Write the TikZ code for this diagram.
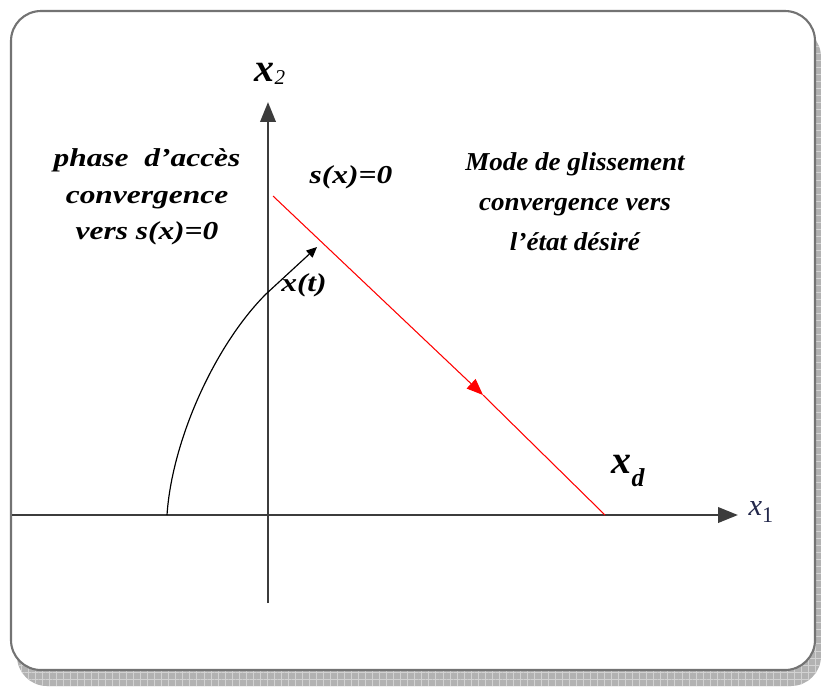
\documentclass[tikz,border=0pt]{standalone}
\usepackage{fontspec}
\usepackage{xcolor}
\usepackage{tikz}
\usetikzlibrary{arrows.meta,patterns.meta}

\newfontfamily\widefont{Liberation Serif}[FakeStretch=1.22]
\newfontfamily\narrowfont{Liberation Serif}[FakeStretch=1.05]
\newfontfamily\axisfont{Liberation Serif}

\definecolor{axisgray}{RGB}{60,60,60}
\definecolor{labelnavy}{RGB}{35,40,75}

\tikzset{
  framebox/.style={draw=black!55, fill=white, line width=1.8pt, rounded corners=0.9cm},
  shadowbox/.style={fill=gray!60, rounded corners=0.9cm},
  axis/.style={draw=axisgray, line width=2.4pt, -{Triangle[length=17pt,width=13pt]}},
  slide/.style={draw=red, line width=0.9pt},
  traj/.style={draw=black, line width=1pt, -{Triangle[length=9pt,width=8pt]}},
  lbl/.style={inner sep=0pt, align=center, font=\fontsize{22}{31}\selectfont\bfseries\itshape}
}

\begin{document}
\begin{tikzpicture}[x=0.03cm, y=-0.03cm]
  \useasboundingbox (0,0) rectangle (821,686);

  % frame and its shadow
  \coordinate (S1) at (17,27);
  \coordinate (S2) at (821,686);
  \coordinate (F1) at (11,11);
  \coordinate (F2) at (815,670);
  \fill[shadowbox] (S1) rectangle (S2);
  \fill[pattern={Hatch[angle=0,distance=6pt,line width=0.6pt]}, pattern color=gray!35,
        rounded corners=0.9cm] (S1) rectangle (S2);
  \path[framebox] (F1) rectangle (F2);

  % axes
  \coordinate (O)  at (268,515);
  \coordinate (X0) at (12,515);
  \coordinate (X1) at (738,515);
  \coordinate (Y0) at (268,603);
  \coordinate (Y1) at (268,102);
  \draw[axis] (X0) -- (X1);
  \draw[axis] (Y0) -- (Y1);

  % sliding surface s(x)=0
  \coordinate (A) at (273,196);
  \coordinate (M) at (483,395);
  \coordinate (D) at (605,515);
  \draw[slide, -{Triangle[length=14pt,width=11pt]}] (A) -- (M);
  \draw[slide] (M) -- (D);

  % trajectory x(t)
  \coordinate (P0) at (167,515);
  \coordinate (P1) at (266,294);
  \coordinate (P2) at (317,247);
  \draw[traj] (P0) .. controls (172,440) and (215,345) .. (P1) -- (P2);

  % labels
  \node[lbl, font=\fontsize{22}{31}\widefont\bfseries\itshape] (acces) at (147,197)
    {phase\ \ d’accès\\convergence\\vers s(x)=0};
  \node[lbl, font=\fontsize{22}{34}\narrowfont\bfseries\itshape] (mode) at (575,202)
    {Mode de glissement\\convergence vers\\l’état désiré};
  \node[lbl, font=\fontsize{22}{26}\widefont\bfseries\itshape] (sx) at (351,177) {s(x)=0};
  \node[lbl, font=\fontsize{22}{26}\widefont\bfseries\itshape] (xt) at (304,285) {x(t)};
  \node[inner sep=0pt] (x2) at (270,74)
    {\fontsize{34}{34}\axisfont\bfseries\itshape x\fontsize{18}{18}\selectfont\mdseries\raisebox{-3pt}{2}};
  \node[inner sep=0pt] (xd) at (628,471)
    {\fontsize{34}{34}\axisfont\bfseries\itshape x\fontsize{22}{22}\selectfont\raisebox{-11pt}{d}};
  \node[inner sep=0pt, text=labelnavy] (x1) at (761,512)
    {\fontsize{26}{26}\axisfont\itshape x\fontsize{19}{19}\selectfont\upshape\raisebox{-6pt}{1}};
\end{tikzpicture}
\end{document}
